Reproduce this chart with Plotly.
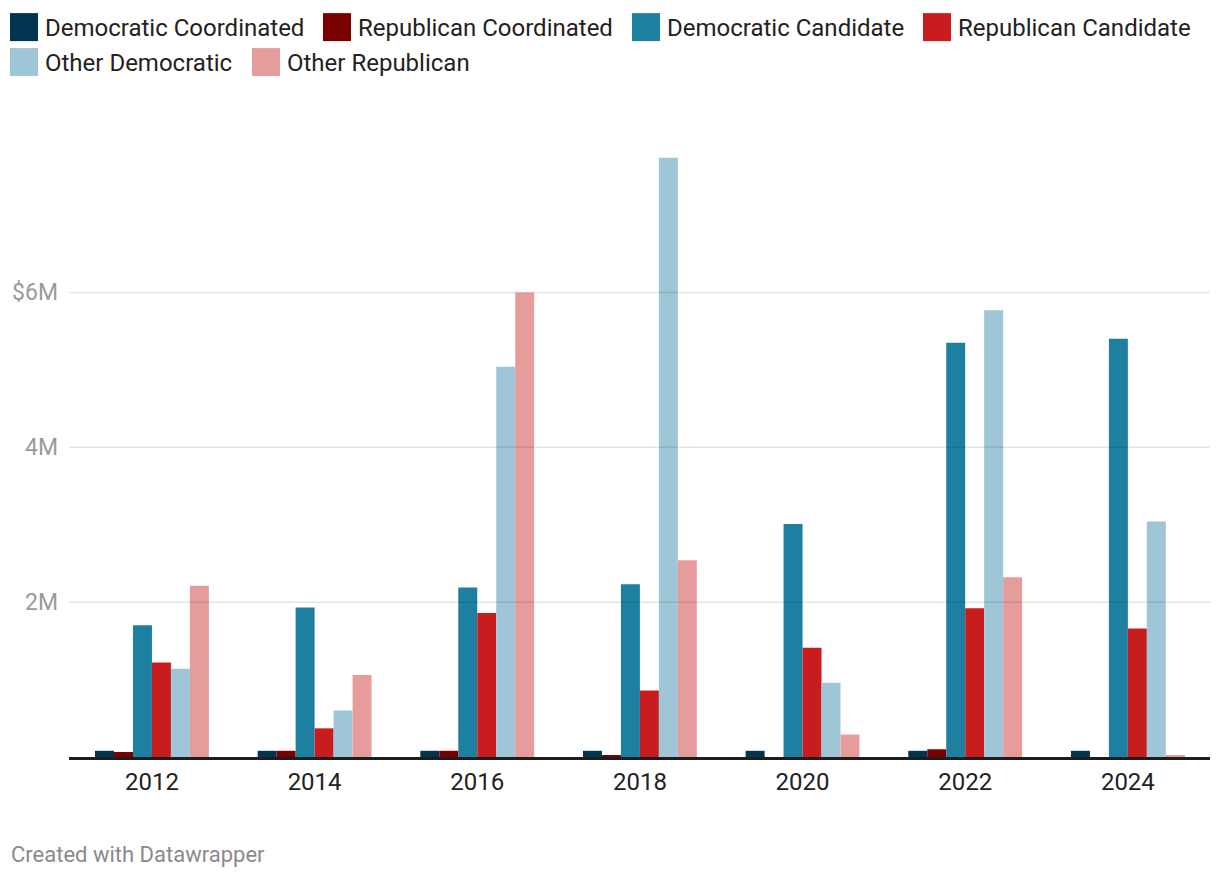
import plotly.graph_objects as go

years = ["2012", "2014", "2016", "2018", "2020", "2022", "2024"]
series_names = ["Democratic Coordinated", "Republican Coordinated", "Democratic Candidate",
                "Republican Candidate", "Other Democratic", "Other Republican"]
dem_coordinated = [0.08, 0.08, 0.08, 0.08, 0.08, 0.08, 0.08]
rep_coordinated = [0.065, 0.08, 0.08, 0.02, 0.0, 0.10, 0.0]
dem_candidate = [1.70, 1.93, 2.19, 2.23, 3.01, 5.35, 5.40]
rep_candidate = [1.22, 0.37, 1.86, 0.86, 1.41, 1.92, 1.66]
other_dem = [1.14, 0.60, 5.04, 7.74, 0.96, 5.77, 3.04]
other_rep = [2.21, 1.06, 6.00, 2.54, 0.29, 2.32, 0.02]
y_tickvals = [2, 4, 6]
y_ticktext = ["2M", "4M", "$6M"]

colors = ["#01354f", "#7a0000", "#1d80a1", "#c81d1f", "#9ec6d6", "#e79c9c"]
values = [dem_coordinated, rep_coordinated, dem_candidate, rep_candidate, other_dem, other_rep]

OFF = 8  # page body margin
W, H = 1220 - 2 * OFF, 880 - 2 * OFF
ML, MR, MT = 69 - OFF, 1220 - OFF - 1210, 153 - OFF
MB = (880 - 2 * OFF) - (757.5 - OFF)
PW, PH = W - ML - MR, H - MT - MB

def px(x):
    return (x - OFF - ML) / PW

def py(y):
    return (H - MB - (y - OFF)) / PH

fig = go.Figure()
for name, vals, col in zip(series_names, values, colors):
    fig.add_trace(go.Bar(x=years, y=vals, name=name, marker=dict(color=col, line=dict(width=0)),
                         showlegend=False))

shapes = []
for v in y_tickvals:
    shapes.append(dict(type="line", xref="paper", yref="y", x0=0, x1=1, y0=v, y1=v,
                       line=dict(color="rgba(0,0,0,0.1)", width=1.5), layer="above"))

annotations = []
legend_items = [
    (series_names[0], colors[0], 10, 27),
    (series_names[1], colors[1], 323, 27),
    (series_names[2], colors[2], 632, 27),
    (series_names[3], colors[3], 923, 27),
    (series_names[4], colors[4], 10, 62),
    (series_names[5], colors[5], 252, 62),
]
for name, col, x0, yc in legend_items:
    shapes.append(dict(type="rect", xref="paper", yref="paper",
                       x0=px(x0), x1=px(x0 + 28), y0=py(yc + 14), y1=py(yc - 14),
                       fillcolor=col, line=dict(width=0)))
    annotations.append(dict(text=name, xref="paper", yref="paper", x=px(x0 + 33), y=py(yc + 1),
                            xanchor="left", yanchor="middle", showarrow=False,
                            font=dict(family="Roboto", size=24, color="#222222")))

annotations.append(dict(text="Created with Datawrapper", xref="paper", yref="paper",
                        x=px(9), y=py(855), xanchor="left", yanchor="middle", showarrow=False,
                        font=dict(family="Roboto", size=22, color="#8a8a8a")))

fig.update_layout(
    width=W, height=H,
    margin=dict(l=ML, r=MR, t=MT, b=MB),
    paper_bgcolor="white", plot_bgcolor="white",
    barmode="group", bargap=0.3, bargroupgap=0,
    font=dict(family="Roboto"),
    shapes=shapes, annotations=annotations,
    xaxis=dict(type="category", range=[-0.51, 6.505], showgrid=False, showline=True,
               linecolor="#1d1d1d", linewidth=2.5, layer="above traces", ticks="",
               tickfont=dict(family="Roboto", size=24, color="#222222"), ticklabelstandoff=1,
               fixedrange=True),
    yaxis=dict(range=[0, 7.8], tickvals=y_tickvals, ticktext=y_ticktext, showgrid=False,
               zeroline=False, showline=False, ticks="",
               tickfont=dict(family="Roboto", size=23, color="#9a9a9a"), ticklabelstandoff=10,
               fixedrange=True),
)

fig.write_html("out.html")
